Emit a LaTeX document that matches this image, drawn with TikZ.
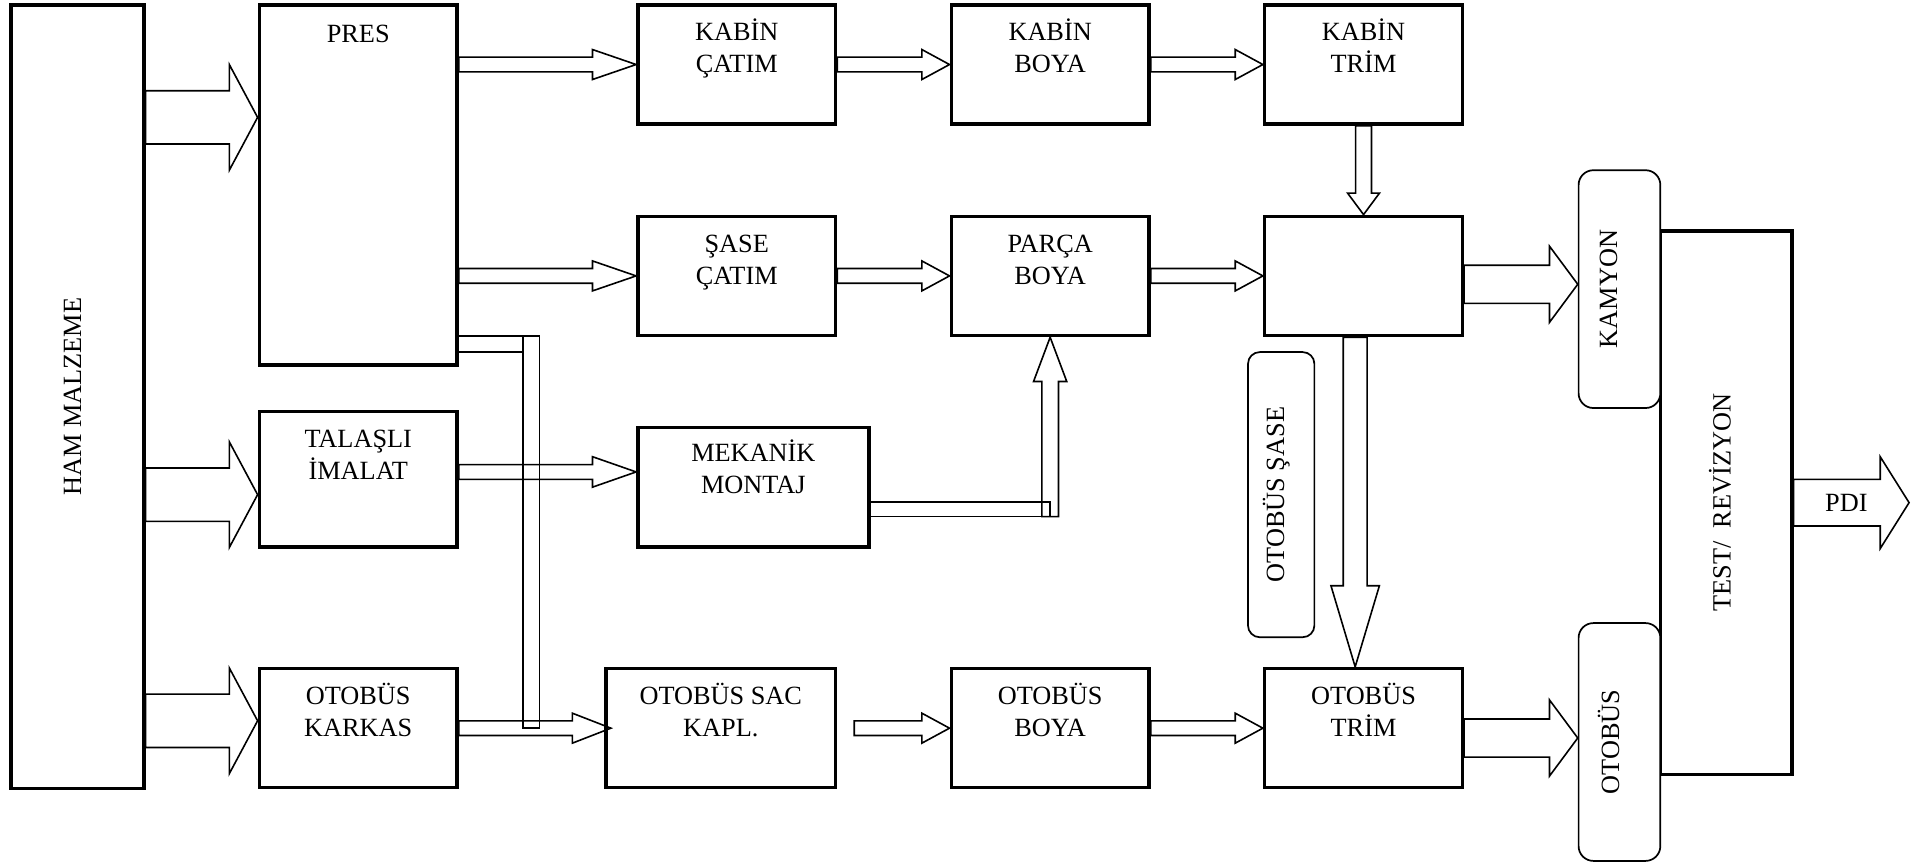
\documentclass[tikz,border=0pt]{standalone}
\usepackage{fontspec}
\setmainfont{Liberation Serif}
\usetikzlibrary{calc}

\newcommand{\boxlines}[2]{\begin{tabular}[t]{@{}c@{}}#1\\#2\end{tabular}}

\tikzset{
  block/.style={draw, line width=1.4pt, inner sep=0pt, minimum width=80.5pt, minimum height=48.5pt},
  roundbox/.style={draw, line width=0.7pt, rounded corners=6pt, fill=white, inner sep=0pt, minimum width=33.25pt, minimum height=96.75pt},
  lbl/.style={anchor=base, inner sep=0pt},
  vlbl/.style={rotate=90, inner sep=0pt},
  pipe/.style={line width=0.65pt},
  fat/.style n args={3}{line width=0.65pt, to path={
    ($(\tikztostart)!#1!90:(\tikztotarget)$)
    -- ($(\tikztotarget)!#3!(\tikztostart)!#1!-90:(\tikztostart)$)
    -- ($(\tikztotarget)!#3!(\tikztostart)!#2!-90:(\tikztostart)$)
    -- (\tikztotarget)
    -- ($(\tikztotarget)!#3!(\tikztostart)!#2!90:(\tikztostart)$)
    -- ($(\tikztotarget)!#3!(\tikztostart)!#1!90:(\tikztostart)$)
    -- ($(\tikztostart)!#1!-90:(\tikztotarget)$) -- cycle}},
}

\begin{document}
\begin{tikzpicture}[x=0.5pt, y=-0.5pt, font=\fontsize{10.7pt}{13pt}\selectfont]
\useasboundingbox (0,0) rectangle (1568,703);

% boxes
\node[block, minimum width=54pt, minimum height=318.75pt] (ham) at (63,322.75) {};
\node[block, minimum height=146.5pt] (pres) at (291.5,150.5) {};
\node[block, minimum height=55pt] (tal) at (291.5,390) {};
\node[block] (kar) at (291.5,592.5) {};
\node[block] (kc) at (599.5,52.5) {};
\node[block] (kb) at (854.5,52.5) {};
\node[block] (kt) at (1109.5,52.5) {};
\node[block] (sc) at (599.5,224.5) {};
\node[block] (pb) at (854.5,224.5) {};
\node[block] (mont) at (1109.5,224.5) {};
\node[block, minimum width=94pt] (mek) at (613,396.5) {};
\node[block, minimum width=93.5pt] (sac) at (586.5,592.5) {};
\node[block] (ob) at (854.5,592.5) {};
\node[block] (ot) at (1109.5,592.5) {};
\node[block, minimum width=53.5pt, minimum height=221pt] (test) at (1404.5,409) {};
\node[roundbox] (kam) at (1317.75,235.25) {};
\node[roundbox] (oto) at (1317.75,603.75) {};
\node[roundbox, rounded corners=4.75pt, minimum width=27pt, minimum height=116pt] (osase) at (1042.5,402.5) {};

% box texts
\node[lbl] (pres-l) at ([yshift=-16pt]pres.north) {PRES};
\node[lbl] (tal-l) at ([yshift=-15.25pt]tal.north) {\boxlines{TALAŞLI}{İMALAT}};
\node[lbl] (kar-l) at ([yshift=-15.25pt]kar.north) {\boxlines{OTOBÜS}{KARKAS}};
\node[lbl] (kc-l) at ([yshift=-15.25pt]kc.north) {\boxlines{KABİN}{ÇATIM}};
\node[lbl] (kb-l) at ([yshift=-15.25pt]kb.north) {\boxlines{KABİN}{BOYA}};
\node[lbl] (kt-l) at ([yshift=-15.25pt]kt.north) {\boxlines{KABİN}{TRİM}};
\node[lbl] (sc-l) at ([yshift=-15.25pt]sc.north) {\boxlines{ŞASE}{ÇATIM}};
\node[lbl] (pb-l) at ([yshift=-15.25pt]pb.north) {\boxlines{PARÇA}{BOYA}};
\node[lbl] (mek-l) at ([yshift=-14.5pt]mek.north) {\boxlines{MEKANİK}{MONTAJ}};
\node[lbl] (sac-l) at ([yshift=-15.25pt]sac.north) {\boxlines{OTOBÜS SAC}{KAPL.}};
\node[lbl] (ob-l) at ([yshift=-15.25pt]ob.north) {\boxlines{OTOBÜS}{BOYA}};
\node[lbl] (ot-l) at ([yshift=-15.25pt]ot.north) {\boxlines{OTOBÜS}{TRİM}};
\node[vlbl] (ham-l) at ([xshift=-2pt]ham.center) {HAM MALZEME};
\node[vlbl] (kam-l) at ([xshift=-4.4pt]kam.center) {KAMYON};
\node[vlbl] (oto-l) at ([xshift=-4.4pt]oto.center) {OTOBÜS};
\node[vlbl] (osase-l) at ([xshift=-2pt]osase.center) {OTOBÜS ŞASE};
\node[vlbl] (test-l) at ([xshift=-2.5pt]test.center) {TEST/ \ REVİZYON};
\node (pdi-l) at ([xshift=21.5pt]test.east) {PDI};

% raw material arrows
\draw[fat={10.85pt}{21.5pt}{11.5pt}] (ham.east |- 0,95.5) to (pres.west |- 0,95.5);
\draw[fat={10.85pt}{21.5pt}{11.5pt}] (ham.east |- 0,402.5) to (tal.west |- 0,402.5);
\draw[fat={10.85pt}{21.5pt}{11.5pt}] (ham.east |- 0,586.5) to (kar.west |- 0,586.5);

% long head arrows
\draw[fat={3pt}{6.1pt}{17.75pt}] (pres.east |- kc.west) to (kc.west);
\draw[fat={3pt}{6.1pt}{17.75pt}] (pres.east |- sc.west) to (sc.west);
\draw[fat={3pt}{6.2pt}{17.75pt}] (tal.east |- 0,384) to (mek.west |- 0,384);
\draw[fat={3pt}{6.1pt}{15.7pt}] (kar.east) to ([xshift=2.75pt]sac.west);

% short head arrows
\draw[fat={3pt}{6.1pt}{11.25pt}] (kc.east) to (kb.west);
\draw[fat={3pt}{6.1pt}{11.25pt}] (kb.east) to (kt.west);
\draw[fat={3pt}{6.1pt}{11.25pt}] (sc.east) to (pb.west);
\draw[fat={3pt}{6.1pt}{11.25pt}] (pb.east) to (mont.west);
\draw[fat={3pt}{6.1pt}{11.25pt}] ([xshift=6.85pt]sac.east) to (ob.west);
\draw[fat={3pt}{6.1pt}{11.25pt}] (ob.east) to (ot.west);

\draw[fat={3.25pt}{6.5pt}{8.75pt}] (kt.south) to (mont.north);
\draw[fat={4.85pt}{9.85pt}{33pt}] ([xshift=-3.4pt]mont.south) to ([xshift=-3.4pt]ot.north);

\coordinate (k1) at ([yshift=-3.4pt]mont.east);
\coordinate (o1) at ([yshift=-4pt]ot.east);
\draw[fat={7.75pt}{15.5pt}{11.5pt}] (k1) to (k1 -| kam.west);
\draw[fat={7.75pt}{15.5pt}{11.5pt}] (o1) to (o1 -| oto.west);
\draw[fat={9.5pt}{18.7pt}{11.75pt}] (test.east) to ([xshift=47pt]test.east);

% mekanik montaj to parca boya
\coordinate (mb) at (pb.south |- 0,420.4);
\draw[pipe] (mek.east |- 0,408.7) rectangle (mb);
\draw[fat={3.4pt}{6.75pt}{18pt}] (mb) to (pb.south);

% pres to otobus sac kapl.
\coordinate (p1) at (425.5,273.4);
\coordinate (p2) at (439,592.6);
\draw[pipe] (pres.east |- p1) -- (p2 |- p1);
\draw[pipe] (pres.east |- 0,286.2) -- (p1 |- 0,286.2);
\draw[pipe] (p1) rectangle (p2);

\end{tikzpicture}
\end{document}
